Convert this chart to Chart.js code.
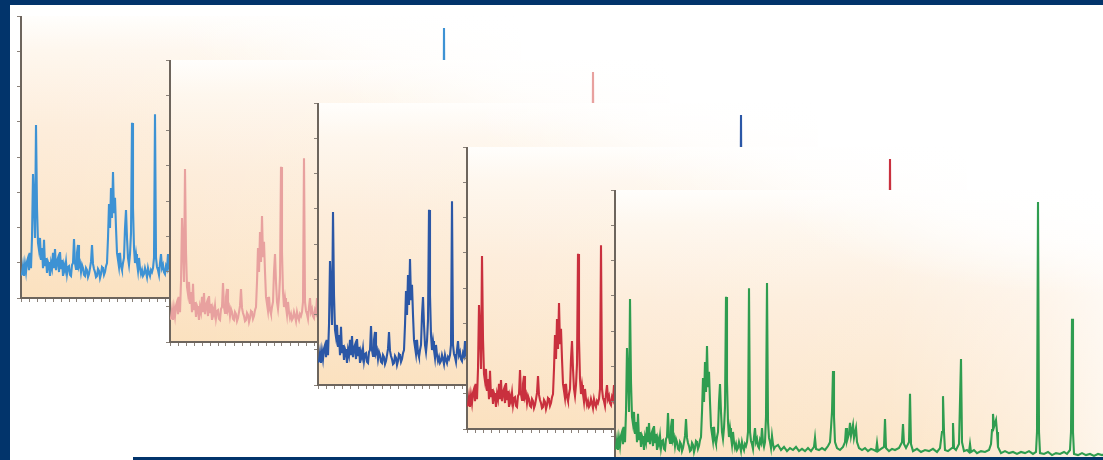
<!DOCTYPE html>
<html>
<head>
<meta charset="utf-8">
<script src="https://cdn.jsdelivr.net/npm/chart.js@4/dist/chart.umd.min.js"></script>
<style>
  html, body { margin: 0; padding: 0; background: #fff; }
  #frame { position: relative; width: 1103px; height: 460px; overflow: hidden; background: #fff; }
  #frame canvas { position: absolute; }
  .edge { position: absolute; background: #02346b; z-index: 10; }
</style>
</head>
<body>
<div id="frame">
  <div class="edge" style="left:0;top:0;width:1103px;height:5px"></div>
  <div class="edge" style="left:0;top:0;width:10px;height:460px"></div>
  <div class="edge" style="left:133px;top:457px;width:970px;height:3px"></div>
</div>
<script>
// retention time (min) and relative signal (%)
const rt = [
  0.0, 0.1, 0.2, 0.3, 0.4, 0.5, 0.6, 0.7, 0.8, 0.9, 1.0, 1.1, 1.2, 1.3, 1.4, 1.5, 1.6, 1.7, 1.8, 1.9,
  2.0, 2.1, 2.2, 2.3, 2.4, 2.5, 2.6, 2.7, 2.8, 2.9, 3.0, 3.1, 3.2, 3.3, 3.4, 3.5, 3.6, 3.7, 3.8, 3.9,
  4.0, 4.1, 4.2, 4.3, 4.4, 4.5, 4.6, 4.7, 4.8, 4.9, 5.0, 5.1, 5.2, 5.3, 5.4, 5.5, 5.6, 5.7, 5.8, 5.9,
  6.0, 6.1, 6.2, 6.3, 6.4, 6.5, 6.6, 6.7, 6.8, 6.9, 7.0, 7.1, 7.2, 7.3, 7.4, 7.5, 7.6, 7.7, 7.8, 7.9,
  8.0, 8.1, 8.2, 8.3, 8.4, 8.5, 8.6, 8.7, 8.8, 8.9, 9.0, 9.1, 9.2, 9.3, 9.4, 9.5, 9.6, 9.7, 9.8, 9.9,
  10.0, 10.1, 10.2, 10.3, 10.4, 10.5, 10.6, 10.7, 10.8, 10.9, 11.0, 11.1, 11.2, 11.3, 11.4, 11.5, 11.6, 11.7, 11.8, 11.9,
  12.0, 12.1, 12.2, 12.3, 12.4, 12.5, 12.6, 12.7, 12.8, 12.9, 13.0, 13.1, 13.2, 13.3, 13.4, 13.5, 13.6, 13.7, 13.8, 13.9,
  14.0, 14.1, 14.2, 14.3, 14.4, 14.5, 14.6, 14.7, 14.8, 14.9, 15.0, 15.1, 15.2, 15.3, 15.4, 15.5, 15.6, 15.7, 15.8, 15.9,
  16.0, 16.3, 16.6, 16.9, 17.2, 17.5, 17.8, 18.1, 18.4, 18.7, 19.0, 19.3, 19.6, 19.9, 20.0, 20.1, 20.4, 20.7, 21.0, 21.3,
  21.5, 21.6, 21.7, 21.8, 21.9, 22.0, 22.2, 22.5, 22.8, 23.0, 23.1, 23.2, 23.4, 23.5, 23.6, 23.8, 23.9, 24.1, 24.2, 24.4,
  24.7, 25.0, 25.3, 25.6, 25.9, 26.1, 26.2, 26.3, 26.6, 26.9, 27.0, 27.1, 27.4, 27.7, 28.0, 28.4, 28.7, 28.8, 28.9, 29.1,
  29.4, 29.5, 29.6, 29.8, 30.2, 30.6, 31.0, 31.4, 31.8, 32.2, 32.5, 32.7, 32.8, 32.9, 33.0, 33.3, 33.7, 33.8, 33.9, 34.1,
  34.4, 34.6, 34.7, 34.9, 35.2, 35.4, 35.5, 35.6, 35.9, 36.2, 36.6, 37.0, 37.4, 37.6, 37.7, 37.8, 37.9, 38.1, 38.2, 38.3,
  38.6, 39.0, 39.4, 39.8, 40.2, 40.6, 41.0, 41.4, 41.8, 42.1, 42.2, 42.3, 42.4, 42.5, 42.9, 43.3, 43.7, 44.1, 44.5, 44.9,
  45.2, 45.5, 45.6, 45.7, 45.8, 45.9, 46.3, 46.7, 47.1, 47.5, 47.9, 48.3, 48.7, 49.1, 49.5, 50.0
];
const signal = [
  8.0, 8.5, 11.5, 7.8, 12.0, 9.2, 13.0, 14.2, 9.9, 16.0, 10.6, 21.3, 44.0, 33.7, 21.3, 61.3, 31.9, 19.5, 17.0, 21.3,
  13.5, 17.7, 10.6, 20.6, 11.3, 14.2, 8.9, 12.8, 11.7, 7.8, 12.4, 10.6, 16.0, 10.6, 17.4, 9.9, 13.1, 14.2, 9.2, 16.3,
  10.6, 13.5, 7.8, 11.7, 9.9, 12.8, 8.5, 11.0, 11.3, 8.2, 7.8, 11.7, 12.4, 20.9, 12.4, 10.3, 16.0, 18.8, 11.3, 12.4,
  9.2, 11.7, 10.6, 8.2, 7.8, 10.6, 9.9, 7.4, 8.5, 10.6, 12.8, 18.8, 12.1, 10.3, 9.2, 7.4, 7.8, 10.3, 9.6, 7.1,
  8.5, 11.0, 10.6, 8.2, 9.2, 11.3, 12.4, 21.3, 33.3, 24.8, 39.0, 28.4, 44.7, 30.1, 35.5, 24.8, 16.0, 13.5, 11.0, 16.0,
  11.3, 9.9, 12.4, 14.2, 24.8, 31.2, 21.3, 14.2, 11.7, 15.6, 23.0, 62.1, 31.9, 17.7, 12.4, 15.6, 12.4, 9.6, 14.2, 10.6,
  8.5, 9.9, 7.8, 8.5, 10.6, 9.2, 7.4, 10.6, 8.9, 7.8, 9.9, 9.2, 10.6, 14.2, 65.2, 14.2, 11.0, 9.9, 8.2, 12.4,
  15.6, 10.6, 11.7, 9.2, 8.5, 11.3, 10.3, 15.6, 10.6, 8.9, 10.6, 19.5, 67.0, 17.7, 12.1, 10.6, 8.5, 12.8, 9.9, 8.2,
  8.9, 9.6, 7.8, 8.9, 7.4, 8.5, 7.8, 8.9, 7.4, 8.2, 7.4, 8.5, 7.4, 8.9, 12.1, 8.2, 7.8, 8.5, 7.8, 9.2,
  10.6, 15.6, 21.3, 35.8, 19.5, 10.6, 8.5, 7.8, 8.9, 10.6, 15.6, 11.0, 13.5, 17.4, 12.8, 16.7, 12.1, 15.6, 10.6, 8.5,
  7.8, 8.5, 7.4, 8.2, 7.8, 7.4, 10.3, 7.4, 8.2, 8.9, 18.8, 8.5, 7.4, 8.2, 7.8, 8.5, 10.6, 17.0, 9.9, 8.5,
  10.6, 27.7, 9.9, 7.4, 8.2, 7.1, 7.8, 7.4, 8.2, 7.1, 8.5, 14.2, 26.9, 14.2, 7.8, 7.4, 8.5, 17.4, 8.5, 7.8,
  9.9, 40.1, 10.6, 7.4, 7.8, 7.1, 9.9, 7.1, 7.8, 6.7, 7.4, 7.1, 7.8, 9.9, 14.9, 20.6, 16.0, 18.4, 14.2, 8.9,
  6.7, 7.4, 6.7, 7.1, 6.4, 7.1, 6.7, 7.4, 6.4, 7.1, 14.2, 95.7, 14.2, 6.7, 6.4, 7.1, 6.0, 6.7, 6.4, 7.1,
  6.4, 7.8, 14.2, 54.3, 14.2, 6.4, 6.0, 6.7, 6.0, 6.4, 5.7, 6.4, 6.0, 6.4, 6.0, 6.4
];
const traceColors = ['#3d92d4', '#e8a19f', '#2b57a6', '#c9303e', '#2f9d50'];
const xMax = 50;
const yMax = 100;

const points = rt.map((t, i) => ({ x: t, y: signal[i] }));

// peach wash that fades to white toward the top and the right edge
const panelBackground = {
    id: 'panelBackground',
    beforeDraw(chart) {
        const { ctx, chartArea: a } = chart;
        ctx.save();
        ctx.beginPath();
        ctx.rect(a.left, a.top, a.width, a.height);
        ctx.clip();

        const v = ctx.createLinearGradient(0, a.top, 0, a.bottom);
        v.addColorStop(0, '#fffefc');
        v.addColorStop(0.12, '#fef7ee');
        v.addColorStop(0.4, '#fdeddb');
        v.addColorStop(0.75, '#fce6cb');
        v.addColorStop(1, '#fbe1bf');
        ctx.fillStyle = v;
        ctx.fillRect(a.left, a.top, a.width, a.height);

        const h = ctx.createLinearGradient(a.left, 0, a.right, 0);
        h.addColorStop(0, 'rgba(255,255,255,0)');
        h.addColorStop(0.55, 'rgba(255,255,255,0.1)');
        h.addColorStop(0.85, 'rgba(255,255,255,0.4)');
        h.addColorStop(1, 'rgba(255,255,255,0.7)');
        ctx.fillStyle = h;
        ctx.fillRect(a.left, a.top, a.width, a.height);

        // soft white corner at the top right
        ctx.translate(a.right, a.top);
        ctx.scale(1, 0.3);
        const r = ctx.createRadialGradient(0, 0, 0, 0, 0, a.width * 0.7);
        r.addColorStop(0, 'rgba(255,255,255,1)');
        r.addColorStop(0.5, 'rgba(255,255,255,0.75)');
        r.addColorStop(1, 'rgba(255,255,255,0)');
        ctx.fillStyle = r;
        ctx.fillRect(-a.width, 0, a.width, a.height / 0.3);
        ctx.restore();
    }
};

const frame = document.getElementById('frame');
const tick = 4;

traceColors.forEach((color, i) => {
    const cv = document.createElement('canvas');
    cv.width = 500 + tick;
    cv.height = 282 + tick;
    cv.style.left = Math.round(21 + i * 148.5 - tick) + 'px';
    cv.style.top = Math.round(16 + i * 43.5) + 'px';
    frame.appendChild(cv);

    new Chart(cv.getContext('2d'), {
        type: 'line',
        data: {
            datasets: [{ data: points, borderColor: color, borderWidth: 2.1, pointRadius: 0, tension: 0, fill: false }]
        },
        options: {
            responsive: false, animation: false, events: [],
            layout: { padding: 0 },
            plugins: { legend: { display: false }, tooltip: { enabled: false } },
            scales: {
                x: {
                    type: 'linear', min: 0, max: xMax,
                    ticks: { display: false, stepSize: 0.8 },
                    grid: { drawOnChartArea: false, tickLength: tick, color: '#8a8179', lineWidth: 1 },
                    border: { display: true, color: '#6d655d', width: 2 }
                },
                y: {
                    min: 0, max: yMax,
                    ticks: { display: false, stepSize: 12.5 },
                    grid: { drawOnChartArea: false, tickLength: tick, color: '#8a8179', lineWidth: 1 },
                    border: { display: true, color: '#6d655d', width: 2 }
                }
            }
        },
        plugins: [panelBackground]
    });
});
</script>
</body>
</html>
